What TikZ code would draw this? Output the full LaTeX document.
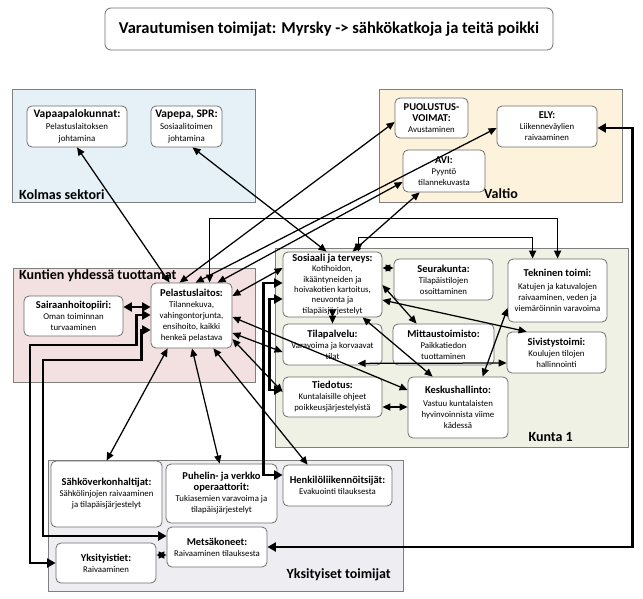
\documentclass[tikz,border=0pt]{standalone}
\usepackage{fontspec}
\setmainfont{Carlito}
\usetikzlibrary{arrows.meta,calc}
\definecolor{kolmasc}{HTML}{E5F1F6}
\definecolor{valtioc}{HTML}{FDF3DC}
\definecolor{kuntienc}{HTML}{F2E1E0}
\definecolor{kuntac}{HTML}{EEF1E4}
\definecolor{yksitc}{HTML}{EEEDF2}
\definecolor{regline}{HTML}{7F7F7F}
\definecolor{boxline}{HTML}{6E6E6E}
\newcommand{\tfont}{\fontsize{10.5}{12}\selectfont\bfseries}
\newcommand{\Tfont}{\fontsize{11.5}{13}\selectfont\bfseries}
\newcommand{\bfont}{\fontsize{8.8}{11}\selectfont}
\newcommand{\Bfont}{\fontsize{8.9}{12}\selectfont}
\newcommand{\sfont}{\fontsize{8.7}{10.3}\selectfont}
\newcommand{\rfont}{\fontsize{14}{16}\selectfont\bfseries}
\newcommand{\hfont}{\fontsize{16.5}{18}\selectfont\bfseries}
\begin{document}
\begin{tikzpicture}[x=1pt,y=-1pt,
  region/.style={draw=regline, line width=0.9pt},
  box/.style={draw=boxline, fill=white, rounded corners=5pt, line width=0.8pt, align=center, inner sep=1pt, font=\bfont},
  rlabel/.style={font=\rfont, inner sep=0pt},
  ln/.style={line width=1.25pt, {Triangle[length=8pt,width=7pt]}-{Triangle[length=8pt,width=7pt]}},
  mid/.style={line width=1.6pt, {Triangle[length=8pt,width=7pt]}-{Triangle[length=8pt,width=7pt]}},
  thk/.style={line width=2.6pt, {Triangle[length=8.5pt,width=9pt]}-{Triangle[length=8.5pt,width=9pt]}}
]
\useasboundingbox (0,0) rectangle (643,598);
\fill[white] (0,0) rectangle (643,598);

% regions
\draw[region, fill=kolmasc] (12,89) rectangle (255,202);
\draw[region, fill=valtioc] (379,89) rectangle (622,202);
\draw[region, fill=kuntienc] (13,268) rectangle (255,382);
\draw[region, fill=kuntac] (275,248) rectangle (628,447);
\draw[region, fill=yksitc] (48,460) rectangle (403,591);

\node[rlabel, anchor=west] (lkolmas) at (19,195) {Kolmas sektori};
\node[rlabel, anchor=west] (lvaltio) at (484,194) {Valtio};
\node[rlabel, anchor=west] (lkuntien) at (19,276) {Kuntien yhdessä tuottamat};
\node[rlabel, anchor=east] (lkunta) at (573,437) {Kunta 1};
\node[rlabel, anchor=east] (lyksit) at (391,575) {Yksityiset toimijat};

% title
\node[box, minimum width=448pt, minimum height=42pt, font=\hfont, rounded corners=6pt] (title) at (329,29) {Varautumisen toimijat: Myrsky -> sähkökatkoja ja teitä poikki};

% nodes
\node[box, font=\Bfont, minimum width=100pt, minimum height=41pt] (vapaa) at (77,126.5) {{\Tfont Vapaapalokunnat:}\\Pelastuslaitoksen\\johtamina};
\node[box, font=\Bfont, minimum width=71pt, minimum height=41pt] (vapepa) at (186.5,126.5) {{\Tfont Vapepa, SPR:}\\Sosiaalitoimen\\johtamina};
\node[box, minimum width=73pt, minimum height=40pt] (puol) at (431.5,118) {{\tfont PUOLUSTUS-}\\{\tfont VOIMAT:}\\Avustaminen};
\node[box, minimum width=100pt, minimum height=41pt] (ely) at (547,126.5) {{\tfont ELY:}\\Liikenneväylien\\raivaaminen};
\node[box, minimum width=82pt, minimum height=42pt] (avi) at (444,171) {{\tfont AVI:}\\Pyyntö\\tilannekuvasta};
\node[box, minimum width=99pt, minimum height=40pt] (sair) at (73.5,316) {{\tfont Sairaanhoitopiiri:}\\Oman toiminnan\\turvaaminen};
\node[box, minimum width=81pt, minimum height=65pt] (pelast) at (191.5,315.5) {{\tfont Pelastuslaitos:}\\Tilannekuva,\\vahingontorjunta,\\ensihoito, kaikki\\henkeä pelastava};
\node[box, font=\sfont, minimum width=99pt, minimum height=65pt] (sos) at (332.5,284.5) {{\tfont Sosiaali ja terveys:}\\Kotihoidon,\\ikääntyneiden ja\\hoivakotien kartoitus,\\neuvonta ja\\tilapäisjärjestelyt};
\node[box, minimum width=99pt, minimum height=41pt] (seura) at (443.5,279.5) {{\tfont Seurakunta:}\\Tilapäistilojen\\osoittaminen};
\node[box, minimum width=99pt, minimum height=63pt] (tekn) at (557.5,290.5) {{\tfont Tekninen toimi:}\\[2pt]Katujen ja katuvalojen\\raivaaminen, veden ja\\viemäröinnin varavoima};
\node[box, minimum width=99pt, minimum height=41pt] (tila) at (332.5,344.5) {{\tfont Tilapalvelu:}\\Varavoima ja korvaavat\\tilat};
\node[box, minimum width=101pt, minimum height=41pt] (mitta) at (443.5,344.5) {{\tfont Mittaustoimisto:}\\Paikkatiedon\\tuottaminen};
\node[box, minimum width=99pt, minimum height=41pt] (sivis) at (556.5,352.5) {{\tfont Sivistystoimi:}\\Koulujen tilojen\\hallinnointi};
\node[box, minimum width=99pt, minimum height=40pt] (tiedo) at (332.5,397) {{\tfont Tiedotus:}\\Kuntalaisille ohjeet\\poikkeusjärjestelyistä};
\node[box, minimum width=100pt, minimum height=61pt] (kesk) at (458,407.5) {{\tfont Keskushallinto:}\\[2pt]Vastuu kuntalaisten\\hyvinvoinnista viime\\kädessä};
\node[box, minimum width=111pt, minimum height=66pt] (sahko) at (106.5,494) {{\tfont Sähköverkonhaltijat:}\\Sähkölinjojen raivaaminen\\ja tilapäisjärjestelyt};
\node[box, minimum width=111pt, minimum height=59pt] (puhel) at (221.5,493.5) {{\tfont Puhelin- ja verkko}\\{\tfont operaattorit:}\\Tukiasemien varavoima ja\\tilapäisjärjestelyt};
\node[box, minimum width=109pt, minimum height=41pt] (henk) at (337.5,485.5) {{\tfont Henkilöliikennöitsijät:}\\Evakuointi tilauksesta};
\node[box, minimum width=100pt, minimum height=40pt] (metsa) at (217,547) {{\tfont Metsäkoneet:}\\Raivaaminen tilauksesta};
\node[box, minimum width=100pt, minimum height=40pt] (yksti) at (106,563) {{\tfont Yksityistiet:}\\Raivaaminen};

% connectors: Pelastuslaitos upward
\draw[ln] ($(pelast.north west)+(19,0)$) -- (vapaa.south);
\draw[ln] ($(pelast.north west)+(29,0)$) -- ($(puol.west)+(0,4)$);
\draw[ln] ($(pelast.north west)+(45,0)$) -- ($(ely.west)+(0,1.5)$);
\draw[ln] ($(pelast.north west)+(67,0)$) -- ($(avi.west)+(0,11)$);
\draw[mid] ($(pelast.north west)+(59,0)$) -- ++(0,-64) -| ($(tekn.north west)+(50,0)$);
% Sosiaali upward
\draw[ln] ($(vapepa.south)+(6,0)$) -- ($(sos.north west)+(44,0)$);
\draw[ln] ($(sos.north west)+(70,0)$) -- ($(avi.south west)+(17,0)$);
\draw[mid] ($(sos.north west)+(76,0)$) -- ++(0,-14) -| ($(tekn.north west)+(25,0)$);
% Pelastuslaitos right side
\draw[ln] ($(pelast.east)+(0,-19.5)$) -- ($(sos.west)+(0,-16.5)$);
\draw[ln] ($(pelast.east)+(0,1.5)$) -- ($(kesk.west)+(0,-17.5)$);
\draw[ln] ($(pelast.east)+(0,17.5)$) -- ($(tila.west)+(0,7.5)$);
\draw[ln] ($(pelast.east)+(0,23.5)$) -- ($(tiedo.west)+(0,-5)$);
% Pelastuslaitos downward
\draw[ln] ($(pelast.south east)+(-19,0)$) -- ($(henk.north west)+(25,0)$);
\draw[ln] ($(pelast.south)+(0.5,0)$) -- ($(puhel.north west)+(54,0)$);
\draw[ln] ($(pelast.south west)+(17,0)$) -- ($(sahko.north west)+(56,0)$);
% thick left
\draw[thk] ($(sair.east)+(0,-9)$) -- ($(pelast.west)+(0,-8.5)$);
\draw[thk] (yksti.west) -| (30,345) -| ($(pelast.west)+(-14,-0.5)$) -- ($(pelast.west)+(0,-0.5)$);
\draw[thk] ($(metsa.west)+(0,-11)$) -| (43,360) -| ($(pelast.west)+(-9,14.5)$) -- ($(pelast.west)+(0,14.5)$);
% thick Kunta side
\draw[thk] ($(sos.west)+(0,-1.5)$) -| ($(henk.west)+(-19,-10.5)$) -- ($(henk.west)+(0,-10.5)$);
\draw[thk] ($(sos.west)+(0,14.5)$) -| ($(tiedo.west)+(-13,-7)$) -- ($(tiedo.west)+(0,-7)$);
% Kunta internal
\draw[ln] ($(sos.east)+(0,-16.5)$) -- ($(seura.west)+(0,-11.5)$);
\draw[ln] (sos.south) -- (tila.north);
\draw[ln] ($(sos.east)+(0,0.5)$) -- ($(mitta.north west)+(24,0)$);
\draw[ln] ($(sos.east)+(0,15.5)$) -- ($(sivis.north west)+(20,0)$);
\draw[ln] ($(sos.south west)+(80,0)$) -- ($(kesk.north west)+(25,0)$);
\draw[ln] ($(tila.south west)+(75,-2)$) -- ($(sivis.west)+(0,10.5)$);
\draw[ln] ($(kesk.north west)+(75,0)$) -- ($(tekn.west)+(0,17.5)$);
\draw[ln] ($(tiedo.east)+(0,10)$) -- ($(kesk.west)+(0,-0.5)$);
% ELY - Metsakoneet
\draw[thk] ($(ely.east)+(0,1.5)$) -| ($(metsa.east)+(365,0)$) -- (metsa.east);
\draw[ln] ($(metsa.west)+(0,8)$) -- ($(yksti.east)+(0,-8)$);
\end{tikzpicture}
\end{document}
